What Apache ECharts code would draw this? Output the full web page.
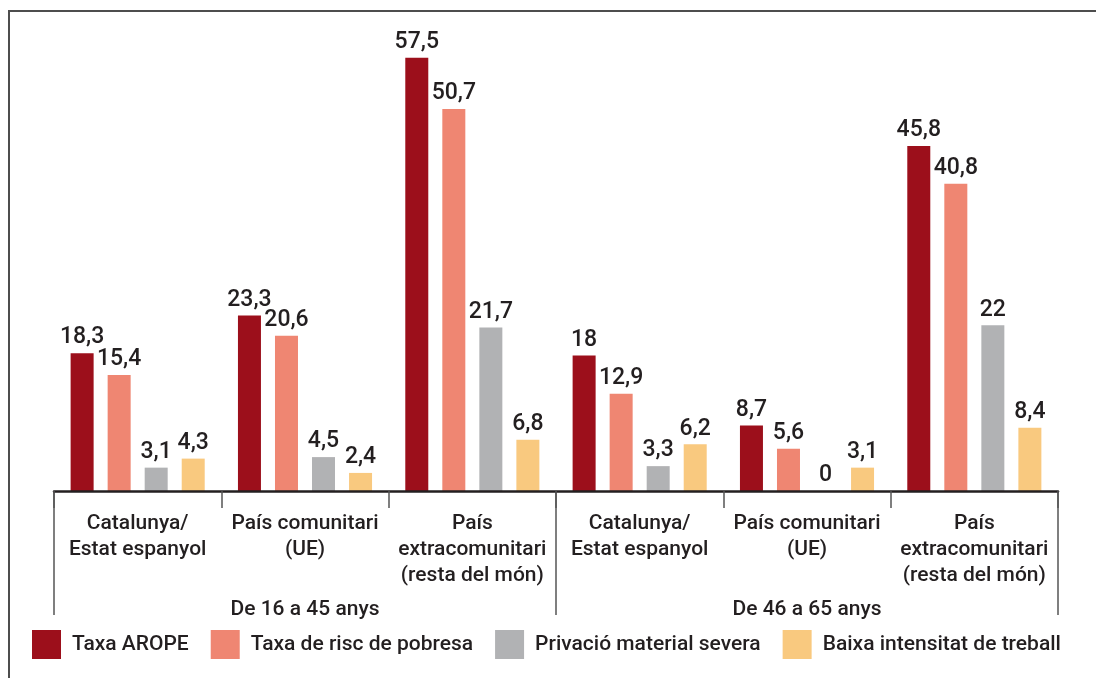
<!DOCTYPE html>
<html>
<head>
<meta charset="utf-8">
<script src="https://cdn.jsdelivr.net/npm/echarts@6/dist/echarts.min.js"></script>
<style>
    html, body { margin: 0; padding: 0; background: #fff; }
    #chart { width: 1096px; height: 678px; }
    #frame {
        position: absolute; left: 8px; top: 10px; width: 1100px; height: 700px;
        border-top: 2px solid #4d4d4d; border-left: 2px solid #4d4d4d;
        pointer-events: none;
    }
</style>
</head>
<body>
<div id="frame"></div>
<div id="chart"></div>
<script>
// categories (origin) and age groups
const categories = [
    'Catalunya/\nEstat espanyol',
    'País comunitari\n(UE)',
    'País\nextracomunitari\n(resta del món)',
    'Catalunya/\nEstat espanyol',
    'País comunitari\n(UE)',
    'País\nextracomunitari\n(resta del món)'
]
const ageGroups = ['De 16 a 45 anys', 'De 46 a 65 anys']

// series values (%)
const taxaArope = [18.3, 23.3, 57.5, 18, 8.7, 45.8]
const taxaRisc = [15.4, 20.6, 50.7, 12.9, 5.6, 40.8]
const privacio = [3.1, 4.5, 21.7, 3.3, 0, 22]
const baixaIntensitat = [4.3, 2.4, 6.8, 6.2, 3.1, 8.4]

const seriesNames = ['Taxa AROPE', 'Taxa de risc de pobresa', 'Privació material severa', 'Baixa intensitat de treball']
const seriesData = [taxaArope, taxaRisc, privacio, baixaIntensitat]
const colors = ['#9c0f1b', '#ef8672', '#b1b2b4', '#f9c97f']

const textColor = '#231f20'
const fontFamily = 'Roboto, sans-serif'

const chart = echarts.init(document.getElementById('chart'))
const option = {
    animation: false,
    textStyle: { fontFamily: fontFamily, color: textColor },
    grid: { left: 54, right: 38, top: 39, bottom: 187 },
    legend: {
        left: 32,
        top: 630,
        padding: 0,
        itemWidth: 29,
        itemHeight: 29,
        itemGap: 22,
        icon: 'rect',
        textStyle: { fontSize: 21, fontWeight: 500, color: textColor, fontFamily: fontFamily, padding: [12, 0, 0, 6] },
        data: seriesNames
    },
    xAxis: [{
        type: 'category',
        data: categories,
        axisLine: { show: true, lineStyle: { color: textColor, width: 2.5 } },
        axisTick: { show: true, length: 17, lineStyle: { color: '#555', width: 1.5 } },
        axisLabel: {
            interval: 0,
            margin: 20,
            fontSize: 21,
            fontWeight: 500,
            lineHeight: 26,
            color: textColor,
            fontFamily: fontFamily
        },
        z: 5
    }, {
        type: 'category',
        position: 'bottom',
        data: ageGroups,
        axisLine: { show: false },
        axisTick: { show: true, length: 124, lineStyle: { color: '#555', width: 1.5 } },
        axisLabel: {
            interval: 0,
            margin: 108,
            fontSize: 21,
            fontWeight: 500,
            color: textColor,
            fontFamily: fontFamily
        }
    }],
    yAxis: {
        type: 'value',
        min: 0,
        max: 60,
        show: false,
        splitLine: { show: false }
    },
    series: seriesData.map((data, i) => ({
        name: seriesNames[i],
        type: 'bar',
        data: data,
        barWidth: 23,
        barGap: '61%',
        itemStyle: { color: colors[i] },
        label: {
            show: true,
            position: 'top',
            distance: 4,
            fontSize: 23,
            fontWeight: 500,
            color: textColor,
            fontFamily: fontFamily,
            formatter: p => String(p.value).replace('.', ',')
        }
    }))
}
chart.setOption(option)
</script>
</body>
</html>
